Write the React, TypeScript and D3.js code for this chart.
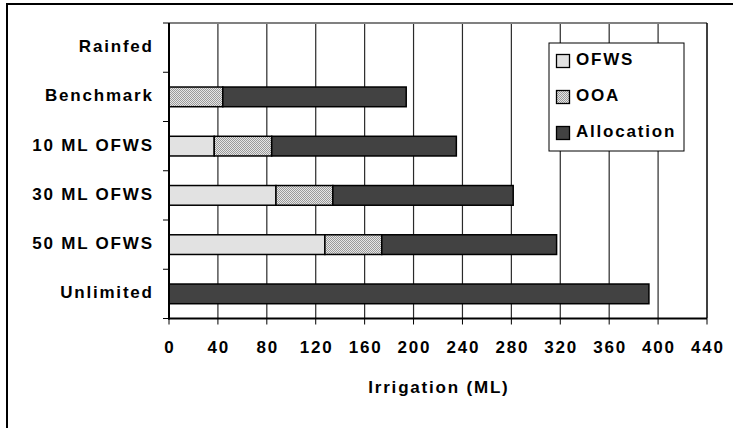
import React from 'react';
import * as d3 from 'd3';

// values (ML)
const categories = ['Rainfed', 'Benchmark', '10 ML OFWS', '30 ML OFWS', '50 ML OFWS', 'Unlimited'];
const ofws = [0, 0, 37, 87.5, 127.5, 0];
const ooa = [0, 44, 47, 46.5, 46.5, 0];
const allocation = [0, 150, 151, 147.5, 143, 392.5];
const seriesNames = ['OFWS', 'OOA', 'Allocation'];
const xTicks = [0, 40, 80, 120, 160, 200, 240, 280, 320, 360, 400, 440];

const W = 733;
const H = 428;
const left = 169;
const right = 707;
const top = 23;
const bottom = 318.5;
const FONT = '"Liberation Sans", Arial, sans-serif';
const LS = 1.8;

const fills: Record<string, string> = {
  OFWS: '#e2e2e2',
  OOA: 'url(#ooaPattern)',
  Allocation: '#424242',
};

const App = () => {
  const x = d3.scaleLinear().domain([0, 440]).range([left, right]);
  const y = d3
    .scaleBand()
    .domain(categories)
    .range([top, bottom])
    .paddingInner(0.6)
    .paddingOuter(0.3);

  const rows = categories.map((c, i) => ({
    category: c,
    OFWS: ofws[i],
    OOA: ooa[i],
    Allocation: allocation[i],
  }));
  const stacked = d3.stack<any>().keys(seriesNames)(rows);

  const step = y.step();
  const boundaries = d3.range(categories.length + 1).map((i) => top + i * step);

  const textStyle = {
    fontFamily: FONT,
    fontWeight: 'bold' as const,
    fontSize: 17,
    letterSpacing: LS,
  };

  return (
    <svg
      width={W}
      height={H}
      style={{ position: 'absolute', left: 0, top: 0, display: 'block', background: '#fff' }}
    >
      <defs>
        <pattern id="ooaPattern" width="2" height="2" patternUnits="userSpaceOnUse">
          <rect width="2" height="2" fill="#e6e6e6" />
          <rect x="0" y="0" width="1" height="1" fill="#9a9a9a" />
          <rect x="1" y="1" width="1" height="1" fill="#9a9a9a" />
        </pattern>
      </defs>

      {/* outer chart frame, runs off the picture on right and bottom */}
      <rect x={7} y={4} width={760} height={460} fill="none" stroke="#000" strokeWidth={2} />

      {/* gridlines */}
      {xTicks.slice(1, -1).map((t) => (
        <line key={t} x1={x(t)} x2={x(t)} y1={top} y2={bottom} stroke="#2a2a2a" strokeWidth={1.2} />
      ))}
      <line x1={left} x2={right} y1={top} y2={top} stroke="#808080" strokeWidth={2} />
      <line x1={right} x2={right} y1={top} y2={bottom} stroke="#000" strokeWidth={1.5} />

      {/* bars */}
      {stacked.map((layer) => (
        <g key={layer.key}>
          {layer.map((d, i) =>
            d[1] - d[0] > 0 ? (
              <rect
                key={i}
                x={x(d[0])}
                y={y(categories[i])}
                width={x(d[1]) - x(d[0])}
                height={y.bandwidth()}
                fill={fills[layer.key]}
                stroke="#000"
                strokeWidth={1.5}
              />
            ) : null
          )}
        </g>
      ))}

      {/* y axis */}
      <line x1={left} x2={left} y1={top} y2={bottom + 1} stroke="#000" strokeWidth={2} />
      {boundaries.map((b, i) => (
        <line key={i} x1={left - 6} x2={left} y1={b} y2={b} stroke="#000" strokeWidth={1} />
      ))}
      {categories.map((c) => (
        <text
          key={c}
          x={152 + LS}
          y={(y(c) as number) + y.bandwidth() / 2 + 4.5}
          textAnchor="end"
          style={textStyle}
          fill="#000"
        >
          {c}
        </text>
      ))}

      {/* x axis */}
      <line x1={left - 1} x2={right} y1={bottom} y2={bottom} stroke="#000" strokeWidth={2} />
      {xTicks.map((t) => (
        <g key={t}>
          <line x1={x(t)} x2={x(t)} y1={bottom} y2={bottom + 6} stroke="#000" strokeWidth={1} />
          <text x={x(t) + LS / 2} y={353} textAnchor="middle" style={textStyle} fill="#000">
            {t}
          </text>
        </g>
      ))}
      <text x={(left + right) / 2 + LS / 2} y={393} textAnchor="middle" style={textStyle} fill="#000">
        Irrigation (ML)
      </text>

      {/* legend */}
      <rect x={549} y={43} width={135} height={108} fill="#fff" stroke="#000" strokeWidth={1} />
      {seriesNames.map((s, i) => {
        const base = 65 + i * 36;
        return (
          <g key={s}>
            <rect x={556.5} y={base - 10.5} width={13} height={13} fill={fills[s]} stroke="#000" strokeWidth={1.3} />
            <text x={576} y={base} style={textStyle} fill="#000">
              {s}
            </text>
          </g>
        );
      })}
    </svg>
  );
};

export default App;
